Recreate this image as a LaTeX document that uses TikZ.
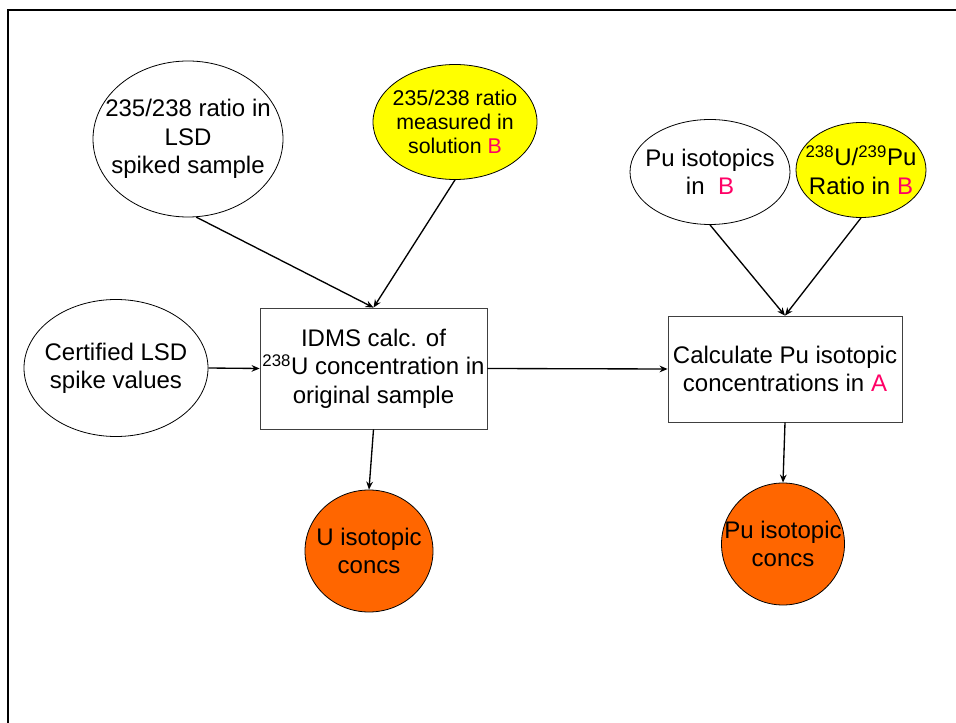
\documentclass[tikz,border=0pt]{standalone}
\usepackage{fontspec}
\setmainfont{Liberation Sans}
\usetikzlibrary{shapes.geometric,arrows.meta}
\definecolor{hilite}{HTML}{FF0066}
\definecolor{measured}{HTML}{FFFF00}
\definecolor{result}{HTML}{FF6600}
\tikzset{
  every node/.style={font=\fontsize{18}{21.3}\selectfont, align=center, inner sep=0pt},
  oval/.style={ellipse, draw=black, line width=0.6pt, fill=white},
  measoval/.style={oval, fill=measured},
  resoval/.style={oval, fill=result},
  calcbox/.style={rectangle, draw=black!75, line width=0.6pt, fill=white},
  small/.style={font=\fontsize{16}{18}\selectfont},
  flow/.style={draw=black, line width=1pt, -{Stealth[length=6pt,width=5pt]}},
  frame/.style={draw=black, line width=2pt}
}
\newcommand{\hl}[1]{\textcolor{hilite}{#1}}
\begin{document}
\begin{tikzpicture}[x=0.75pt, y=-0.75pt]
  \useasboundingbox (0,0) rectangle (956,723);
  % page frame, top and left edges
  \draw[frame] (8,723) -- (8,10) -- (956,10);

  % shapes are fixed in size; their texts are set on top and may run to the edge
  % inputs
  \node[oval, minimum width=142.5pt, minimum height=117pt] (lsdratio) at (188,139) {};
  \node (lsdratio-t) at (lsdratio) {235/238 ratio in\\LSD\\spiked sample};
  \node[measoval, minimum width=123pt, minimum height=86.25pt] (measB) at (455,122) {};
  \node[small] (measB-t) at (measB) {235/238 ratio\\measured in\\solution \hl{B}};
  \node[oval, minimum width=138pt, minimum height=102.75pt] (certified) at (116,368) {};
  \node (certified-t) at (certified) {Certified LSD\\spike values};
  \node[oval, minimum width=120pt, minimum height=78.75pt] (puiso) at (710,172) {};
  \node (puiso-t) at (puiso) {Pu isotopics\\in\ \ \hl{B}};
  \node[measoval, minimum width=97.5pt, minimum height=71.25pt] (uratio) at (861,170) {};
  \node (uratio-t) at (uratio)
    {\textsuperscript{238}U/\textsuperscript{239}Pu\\Ratio in \hl{B}};

  % calculations
  \node[calcbox, minimum width=170.25pt, minimum height=90.75pt] (idms) at (373.5,368.5) {};
  \node (idms-t) at (idms)
    {IDMS calc. of\\\textsuperscript{238}U concentration in\\original sample};
  \node[calcbox, minimum width=175.5pt, minimum height=79.5pt] (pucalc) at (785,369) {};
  \node (pucalc-t) at (pucalc) {Calculate Pu isotopic\\concentrations in \hl{A}};

  % results
  \node[resoval, minimum width=96pt, minimum height=91.5pt] (uconc) at (369,551) {};
  \node (uconc-t) at (uconc) {U isotopic\\concs};
  \node[resoval, minimum width=92.25pt, minimum height=91.5pt] (puconc) at (783,544) {};
  \node (puconc-t) at (puconc) {Pu isotopic\\concs};

  % connectors
  \draw[flow] (lsdratio.-84) -- (idms.north);
  \draw[flow] (measB.south) -- (idms.north);
  \draw[flow] (certified.east) -- (idms.west);
  \draw[flow] (idms.east) -- (pucalc.west);
  \draw[flow] (idms.south) -- (uconc.north);
  \draw[flow] (puiso.south) -- (pucalc.north);
  \draw[flow] (uratio.south) -- (pucalc.north);
  \draw[flow] (pucalc.south) -- (puconc.north);
\end{tikzpicture}
\end{document}
